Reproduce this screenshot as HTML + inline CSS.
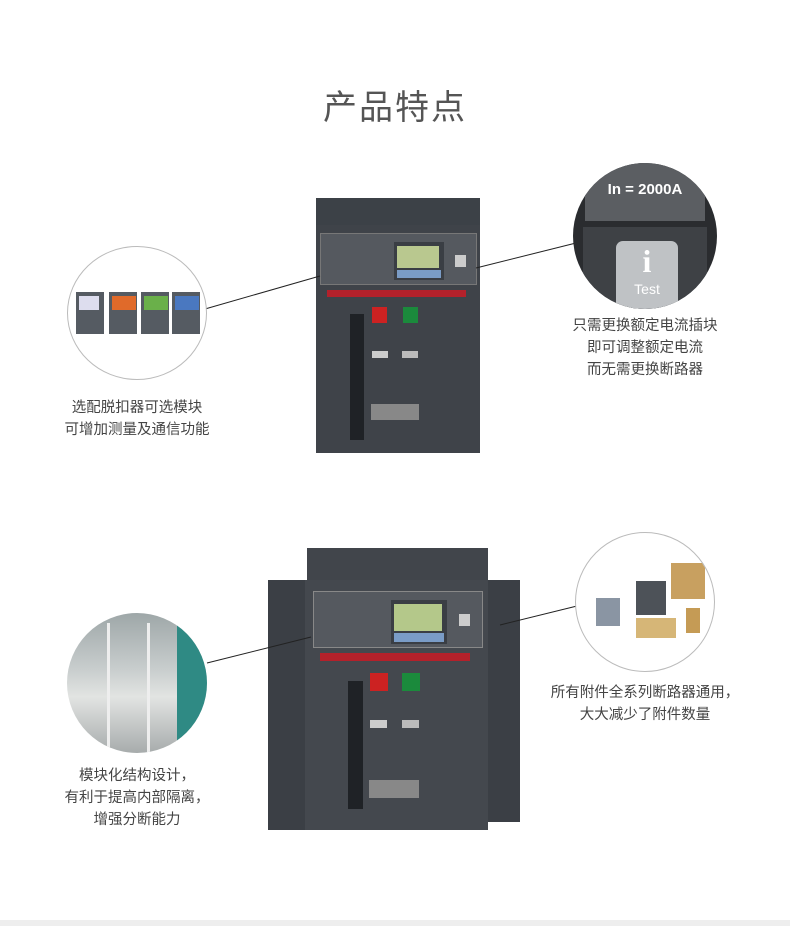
<!DOCTYPE html>
<html><head><meta charset="utf-8"><style>
body{margin:0;width:790px;height:926px;background:#fff;position:relative;overflow:hidden;font-family:"Liberation Sans","Noto Sans CJK SC",sans-serif}
.a{position:absolute}
.t{position:absolute;color:#444;font-size:14.5px;text-align:center;width:240px;line-height:22px}
.c{position:absolute;border-radius:50%;overflow:hidden;border:1px solid #bbb;box-sizing:border-box}
</style></head><body>
<div class="a" style="left:0;top:80px;width:790px;text-align:center;font-size:34px;color:#555;letter-spacing:2px">产品特点</div>

<!-- top breaker -->
<div class="a" style="left:316px;top:198px;width:164px;height:27px;background:#3c4147"></div>
<div class="a" style="left:316px;top:225px;width:164px;height:228px;background:#3f4349"></div>
<div class="a" style="left:320px;top:233px;width:155px;height:50px;background:#55595f;border:1px solid #777"></div>
<div class="a" style="left:394px;top:242px;width:50px;height:38px;background:#3a3e44"></div>
<div class="a" style="left:397px;top:246px;width:42px;height:22px;background:#b9c88f"></div>
<div class="a" style="left:397px;top:270px;width:44px;height:8px;background:#7a9cc6"></div>
<div class="a" style="left:455px;top:255px;width:11px;height:12px;background:#ccc"></div>
<div class="a" style="left:327px;top:290px;width:139px;height:7px;background:#b3212b"></div>
<div class="a" style="left:350px;top:314px;width:14px;height:126px;background:#1f2226"></div>
<div class="a" style="left:372px;top:307px;width:15px;height:16px;background:#c22"></div>
<div class="a" style="left:403px;top:307px;width:15px;height:16px;background:#1b8a3c"></div>
<div class="a" style="left:372px;top:351px;width:16px;height:7px;background:#ccc"></div>
<div class="a" style="left:402px;top:351px;width:16px;height:7px;background:#bbb"></div>
<div class="a" style="left:371px;top:404px;width:48px;height:16px;background:#888"></div>

<!-- bottom breaker -->
<div class="a" style="left:268px;top:580px;width:38px;height:250px;background:#3b3f45"></div>
<div class="a" style="left:488px;top:580px;width:32px;height:242px;background:#3b3f45"></div>
<div class="a" style="left:307px;top:548px;width:181px;height:32px;background:#41454b"></div>
<div class="a" style="left:305px;top:580px;width:183px;height:250px;background:#44484e"></div>
<div class="a" style="left:313px;top:591px;width:168px;height:55px;background:#55595f;border:1px solid #888"></div>
<div class="a" style="left:391px;top:600px;width:56px;height:44px;background:#3a3e44"></div>
<div class="a" style="left:394px;top:604px;width:48px;height:27px;background:#b4c88a"></div>
<div class="a" style="left:394px;top:633px;width:50px;height:9px;background:#7a9cc6"></div>
<div class="a" style="left:459px;top:614px;width:11px;height:12px;background:#ccc"></div>
<div class="a" style="left:320px;top:653px;width:150px;height:8px;background:#b3212b"></div>
<div class="a" style="left:348px;top:681px;width:15px;height:128px;background:#1f2226"></div>
<div class="a" style="left:370px;top:673px;width:18px;height:18px;background:#c22"></div>
<div class="a" style="left:402px;top:673px;width:18px;height:18px;background:#1b8a3c"></div>
<div class="a" style="left:370px;top:720px;width:17px;height:8px;background:#ccc"></div>
<div class="a" style="left:402px;top:720px;width:17px;height:8px;background:#bbb"></div>
<div class="a" style="left:369px;top:780px;width:50px;height:18px;background:#888"></div>

<!-- connectors -->
<svg class="a" style="left:0;top:0" width="790" height="926">
<line x1="205" y1="309" x2="320" y2="276" stroke="#222" stroke-width="1"/>
<line x1="476" y1="268" x2="576" y2="243" stroke="#222" stroke-width="1"/>
<line x1="207" y1="663" x2="311" y2="637" stroke="#222" stroke-width="1"/>
<line x1="500" y1="625" x2="577" y2="606" stroke="#222" stroke-width="1"/>
</svg>

<!-- circles -->
<div class="c" style="left:67px;top:246px;width:140px;height:134px;background:#fff">
 <div class="a" style="left:8px;top:45px;width:28px;height:42px;background:#555b62"></div>
 <div class="a" style="left:11px;top:49px;width:20px;height:14px;background:#dde"></div>
 <div class="a" style="left:41px;top:45px;width:28px;height:42px;background:#555b62"></div>
 <div class="a" style="left:44px;top:49px;width:24px;height:14px;background:#e06a2a"></div>
 <div class="a" style="left:73px;top:45px;width:28px;height:42px;background:#555b62"></div>
 <div class="a" style="left:76px;top:49px;width:24px;height:14px;background:#6ab04a"></div>
 <div class="a" style="left:104px;top:45px;width:28px;height:42px;background:#555b62"></div>
 <div class="a" style="left:107px;top:49px;width:24px;height:14px;background:#4a78c0"></div>
</div>
<div class="c" style="left:573px;top:163px;width:144px;height:146px;background:#2a2c2f;border:none">
 <div class="a" style="left:12px;top:0;width:120px;height:58px;background:#5b5e62"></div>
 <div class="a" style="left:0;top:18px;width:144px;text-align:center;color:#fff;font-weight:bold;font-size:15px">In = 2000A</div>
 <div class="a" style="left:10px;top:64px;width:124px;height:82px;background:#3e4145"></div>
 <div class="a" style="left:43px;top:78px;width:62px;height:70px;background:#bfc2c5;border-radius:7px"></div>
 <div class="a" style="left:43px;top:80px;width:62px;text-align:center;color:#fff;font:bold 32px 'Liberation Serif',serif">i</div>
 <div class="a" style="left:43px;top:118px;width:62px;text-align:center;color:#fff;font-size:14px">Test</div>
</div>
<div class="c" style="left:67px;top:613px;width:140px;height:140px;background:linear-gradient(180deg,#9ea7a8 0%,#c8cdcd 40%,#e2e4e2 60%,#a7acac 100%);border:none">
 <div class="a" style="left:110px;top:0;width:30px;height:140px;background:#2f8a84"></div>
 <div class="a" style="left:40px;top:10px;width:3px;height:130px;background:#eee"></div>
 <div class="a" style="left:80px;top:10px;width:3px;height:130px;background:#eee"></div>
</div>
<div class="c" style="left:575px;top:532px;width:140px;height:140px;background:#fff">
 <div class="a" style="left:95px;top:30px;width:34px;height:36px;background:#c8a060"></div>
 <div class="a" style="left:60px;top:48px;width:30px;height:34px;background:#4d5258"></div>
 <div class="a" style="left:20px;top:65px;width:24px;height:28px;background:#8a95a3"></div>
 <div class="a" style="left:60px;top:85px;width:40px;height:20px;background:#d6b677"></div>
 <div class="a" style="left:110px;top:75px;width:14px;height:25px;background:#c59b55"></div>
</div>

<div class="t" style="left:525px;top:315px">只需更换额定电流插块<br>即可调整额定电流<br>而无需更换断路器</div>
<div class="t" style="left:17px;top:397px">选配脱扣器可选模块<br>可增加测量及通信功能</div>
<div class="t" style="left:525px;top:682px">所有附件全系列断路器通用，<br>大大减少了附件数量</div>
<div class="t" style="left:17px;top:765px">模块化结构设计，<br>有利于提高内部隔离，<br>增强分断能力</div>

<div class="a" style="left:0;top:920px;width:790px;height:6px;background:#eee"></div>
</body></html>
